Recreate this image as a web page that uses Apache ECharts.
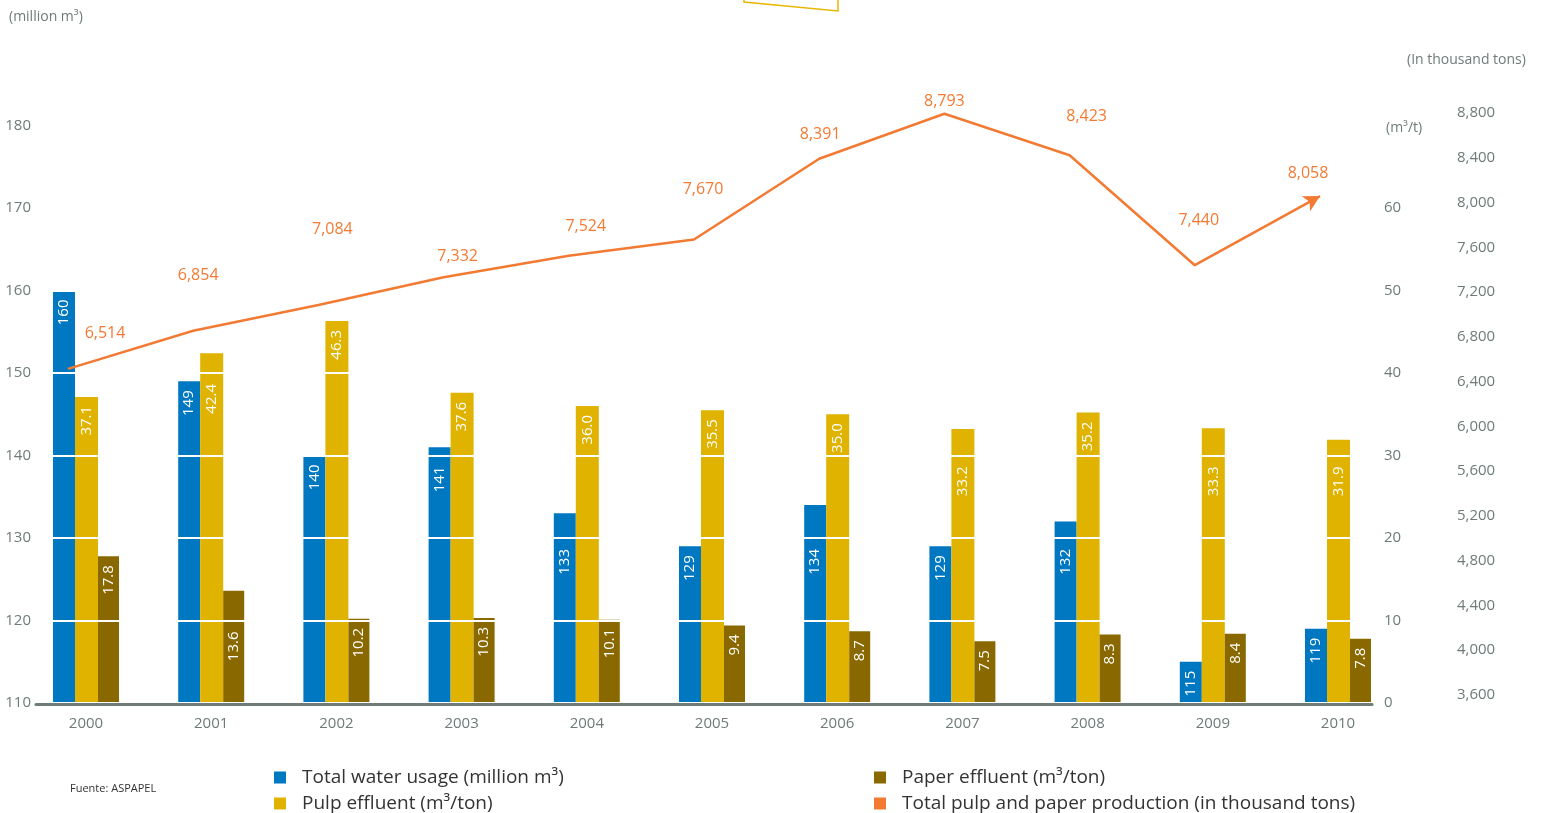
<!DOCTYPE html>
<html>
<head>
<meta charset="utf-8">
<script src="https://cdn.jsdelivr.net/npm/echarts@6/dist/echarts.min.js"></script>
<style>
html,body{margin:0;padding:0;background:#fff;}
#chart{width:1542px;height:813px;}
</style>
</head>
<body>
<div id="chart"></div>
<script>
// ---------- data ----------
const years = ['2000','2001','2002','2003','2004','2005','2006','2007','2008','2009','2010'];
const waterUsage = [160, 149, 140, 141, 133, 129, 134, 129, 132, 115, 119];
const pulpEffluent = [37.1, 42.4, 46.3, 37.6, 36.0, 35.5, 35.0, 33.2, 35.2, 33.3, 31.9];
const paperEffluent = [17.8, 13.6, 10.2, 10.3, 10.1, 9.4, 8.7, 7.5, 8.3, 8.4, 7.8];
const production = [6514, 6854, 7084, 7332, 7524, 7670, 8391, 8793, 8423, 7440, 8058];
const waterTicks = [110, 120, 130, 140, 150, 160, 170, 180];
const effluentTicks = [0, 10, 20, 30, 40, 50, 60];
const productionTicks = [3600, 4000, 4400, 4800, 5200, 5600, 6000, 6400, 6800, 7200, 7600, 8000, 8400, 8800];

// ---------- style ----------
const FONT = 'Open Sans';
const GREY = '#6f7b79';
const C_WATER = '#0077C1';
const C_PULP = '#E0B300';
const C_PAPER = '#8A6800';
const C_PROD = '#F37A33';
const BAR_LABEL_SIZE = 15;
const BAR_LABEL_DIST = 9;
const labelNudge = [[37,-35],[5,-55],[14,-76],[14,-21],[17,-29],[9,-50],[1,-24],[0,-12],[17,-39],[4,-45],[-5,-26]];

const names = {
  water: 'Total water usage (million m³)',
  pulp: 'Pulp effluent (m³/ton)',
  paper: 'Paper effluent (m³/ton)',
  prod: 'Total pulp and paper production (in thousand tons)'
};

const step = (t) => t[1] - t[0];
const fmtInt = (v) => String(v);
const fmt1 = (v) => v.toFixed(1);

const barLabel = (fmt) => ({
  show: true, position: 'insideTop', rotate: 90, align: 'right', verticalAlign: 'middle',
  distance: BAR_LABEL_DIST, color: '#fff', fontFamily: FONT, fontSize: BAR_LABEL_SIZE,
  formatter: (p) => fmt(p.value)
});

function prodData(rot) {
  return production.map((v, i) => {
    const item = { value: v, label: { offset: labelNudge[i] } };
    if (i === production.length - 1) {
      item.symbol = 'arrow';
      item.symbolSize = [13, 16];
      item.symbolRotate = rot;
      item.itemStyle = { color: C_PROD, opacity: 1 };
    }
    return item;
  });
}

const chart = echarts.init(document.getElementById('chart'), null, { renderer: 'canvas' });

const legendText = { fontFamily: FONT, fontSize: 19, color: '#333', lineHeight: 18, padding: [0, 0, 0, 11] };
const legendAt = (name, left, top) => ({
  orient: 'horizontal', left: left, top: top, padding: 0, itemWidth: 12, itemHeight: 12,
  icon: 'rect', selectedMode: false, data: [name], textStyle: legendText
});

const option = {
  animation: false,
  backgroundColor: '#fff',
  textStyle: { fontFamily: FONT },
  title: [
    { text: '(million m³)', left: 4, top: 5, textStyle: { fontFamily: FONT, fontSize: 14, fontWeight: 'normal', color: GREY } },
    { text: '(In thousand tons)', left: 1402, top: 48, textStyle: { fontFamily: FONT, fontSize: 14, fontWeight: 'normal', color: GREY } },
    { text: '(m³/t)', left: 1381, top: 116, textStyle: { fontFamily: FONT, fontSize: 14, fontWeight: 'normal', color: GREY } },
    { text: 'Fuente: ASPAPEL', left: 65, top: 778, textStyle: { fontFamily: FONT, fontSize: 11, fontWeight: 'normal', color: '#333' } }
  ],
  graphic: [{
    type: 'polyline', shape: { points: [[744, 0], [744, 2], [838, 11], [838, 0]] },
    style: { stroke: '#E6B800', lineWidth: 1.5, fill: null }, silent: true
  }],
  legend: [
    legendAt(names.water, 274, 768),
    legendAt(names.pulp, 274, 794),
    legendAt(names.paper, 874, 768),
    legendAt(names.prod, 874, 794)
  ],
  grid: [
    { left: 23.4, right: 141.4, top: 109, bottom: 110 },   // bars
    { left: 5.4, right: 159.4, top: 113, bottom: 118 },    // production line
    { left: 36, right: 170, top: 109, bottom: 109 }        // baseline
  ],
  xAxis: [
    {
      type: 'category', gridIndex: 0, data: years,
      axisLine: { show: false, onZero: false }, axisTick: { show: false },
      axisLabel: { color: GREY, fontFamily: FONT, fontSize: 15, margin: 13 }
    },
    { type: 'category', gridIndex: 1, data: years, show: false },
    {
      type: 'category', gridIndex: 2, data: years, z: 4,
      axisLine: { show: true, onZero: false, lineStyle: { color: GREY, width: 3 } },
      axisTick: { show: false }, axisLabel: { show: false }
    }
  ],
  yAxis: [
    {
      type: 'value', gridIndex: 0, position: 'left', z: 5,
      min: waterTicks[0], max: waterTicks[0] + 72, interval: step(waterTicks),
      axisLine: { show: false }, axisTick: { show: false }, splitLine: { show: false },
      axisLabel: {
        inside: true, align: 'right', margin: 7.6, color: GREY, fontFamily: FONT, fontSize: 15,
        padding: [0, 0, 6, 0],
        formatter: (v) => waterTicks.includes(v) ? String(v) : ''
      }
    },
    {
      type: 'value', gridIndex: 0, position: 'right', z: 3,
      min: effluentTicks[0], max: 72, interval: step(effluentTicks),
      axisLine: { show: false }, axisTick: { show: false },
      splitLine: { show: true, lineStyle: { color: '#ffffff', width: 2 } },
      axisLabel: {
        inside: true, align: 'left', margin: 16.6, color: GREY, fontFamily: FONT, fontSize: 15,
        formatter: (v) => effluentTicks.includes(v) ? String(v) : ''
      }
    },
    {
      type: 'value', gridIndex: 1, position: 'right',
      min: productionTicks[0], max: productionTicks[productionTicks.length - 1], interval: step(productionTicks),
      axisLine: { show: false }, axisTick: { show: false }, splitLine: { show: false },
      axisLabel: {
        align: 'left', margin: 74.4, color: GREY, fontFamily: FONT, fontSize: 15,
        formatter: (v) => v.toLocaleString('en-US')
      }
    },
    { type: 'value', gridIndex: 2, show: false }
  ],
  series: [
    {
      name: names.water, type: 'bar', xAxisIndex: 0, yAxisIndex: 0,
      data: waterUsage, barWidth: 22, barGap: '5%', barCategoryGap: '46%',
      itemStyle: { color: C_WATER }, label: barLabel(fmtInt)
    },
    {
      name: names.pulp, type: 'bar', xAxisIndex: 0, yAxisIndex: 1,
      data: pulpEffluent, barWidth: 23, barGap: '5%',
      itemStyle: { color: C_PULP }, label: barLabel(fmt1)
    },
    {
      name: names.paper, type: 'bar', xAxisIndex: 0, yAxisIndex: 1,
      data: paperEffluent, barWidth: 21, barGap: '0%',
      itemStyle: { color: C_PAPER }, label: barLabel(fmt1)
    },
    {
      name: names.prod, type: 'line', xAxisIndex: 1, yAxisIndex: 2, z: 6,
      data: prodData(-60),
      symbol: 'circle', symbolSize: 1, showSymbol: true,
      lineStyle: { color: C_PROD, width: 2.5 },
      itemStyle: { color: C_PROD },
      label: {
        show: true, position: 'inside', color: C_PROD, fontFamily: FONT, fontSize: 16,
        formatter: (p) => p.value.toLocaleString('en-US')
      }
    }
  ]
};

chart.setOption(option);

// --- post layout: arrow head direction, and bar labels moved below the white rules they would cross ---
const n = production.length;
const pA = chart.convertToPixel({ seriesIndex: 3 }, [n - 2, production[n - 2]]);
const pB = chart.convertToPixel({ seriesIndex: 3 }, [n - 1, production[n - 1]]);
const ang = (pA && pB) ? Math.atan2(pA[1] - pB[1], pB[0] - pA[0]) * 180 / Math.PI : 30;

const ruleYs = [];
for (let v = effluentTicks[0]; v <= 72; v += step(effluentTicks)) {
  ruleYs.push(chart.convertToPixel({ yAxisIndex: 1 }, v));
}
const ctx = document.createElement('canvas').getContext('2d');
ctx.font = BAR_LABEL_SIZE + 'px "' + FONT + '"';

function shiftedBars(values, seriesIndex, fmt) {
  return values.map((v, i) => {
    const top = chart.convertToPixel({ seriesIndex: seriesIndex }, [i, v])[1];
    const w = ctx.measureText(fmt(v)).width;
    const start = top + BAR_LABEL_DIST;
    const end = start + w;
    const hit = ruleYs.find((g) => g > start - 3 && g < end + 2);
    if (hit === undefined) return v;
    // label is rotated 90deg: its local x axis points up the screen
    return { value: v, label: { offset: [-(hit + 11 - start), 0] } };
  });
}

chart.setOption({
  series: [
    { data: shiftedBars(waterUsage, 0, fmtInt) },
    { data: shiftedBars(pulpEffluent, 1, fmt1) },
    { data: shiftedBars(paperEffluent, 2, fmt1) },
    { data: prodData(ang - 90) }
  ]
});
</script>
</body>
</html>
